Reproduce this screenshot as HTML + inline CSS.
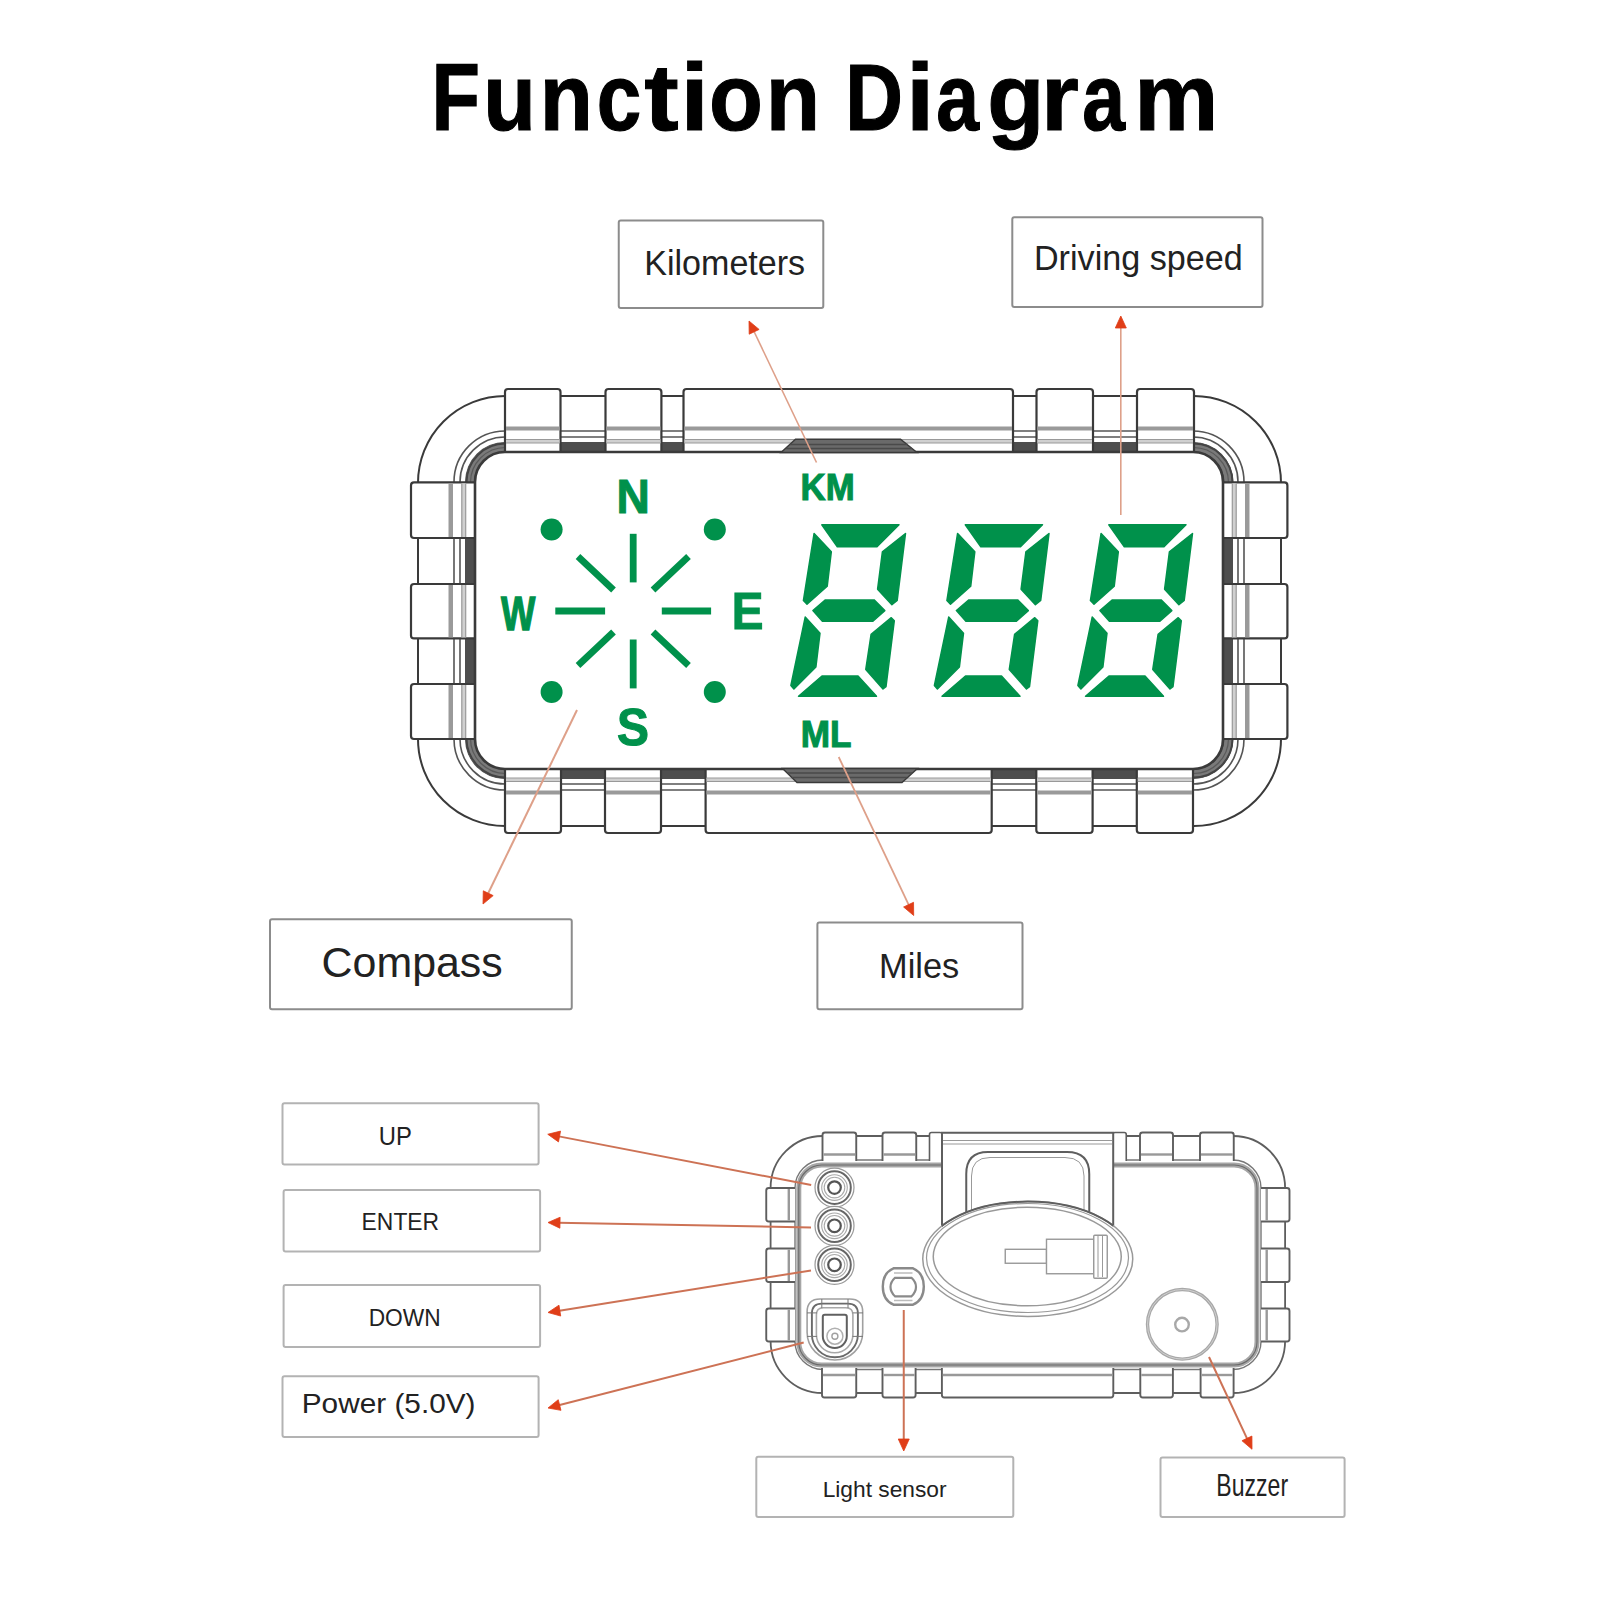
<!DOCTYPE html>
<html><head><meta charset="utf-8"><style>
html,body{margin:0;padding:0;background:#fff;}
body{width:1600px;height:1600px;overflow:hidden;}
svg{display:block;}
</style></head><body>
<svg width="1600" height="1600" viewBox="0 0 1600 1600">
<rect x="0" y="0" width="1600" height="1600" fill="#fff"/>
<text transform="translate(431.44,130.1) scale(0.8417,1)" font-family="Liberation Sans" font-size="94.26" font-weight="bold" fill="#000" stroke="#000" stroke-width="1.188088111475034" style="font-kerning:none">F</text>
<text transform="translate(483.16,130.1) scale(0.9139,1)" font-family="Liberation Sans" font-size="94.26" font-weight="bold" fill="#000" stroke="#000" stroke-width="1.09421319675711" style="font-kerning:none">u</text>
<text transform="translate(539.77,130.1) scale(0.9227,1)" font-family="Liberation Sans" font-size="94.26" font-weight="bold" fill="#000" stroke="#000" stroke-width="1.0837921186927573" style="font-kerning:none">n</text>
<text transform="translate(596.78,130.1) scale(0.8482,1)" font-family="Liberation Sans" font-size="94.26" font-weight="bold" fill="#000" stroke="#000" stroke-width="1.1789621662936067" style="font-kerning:none">c</text>
<text transform="translate(644.23,130.1) scale(1.1001,1)" font-family="Liberation Sans" font-size="94.26" font-weight="bold" fill="#000" stroke="#000" stroke-width="0.9090046132008516" style="font-kerning:none">t</text>
<text transform="translate(680.38,130.1) scale(1.0825,1)" font-family="Liberation Sans" font-size="94.26" font-weight="bold" fill="#000" stroke="#000" stroke-width="0.9237985399979721" style="font-kerning:none">i</text>
<text transform="translate(709.05,130.1) scale(0.9360,1)" font-family="Liberation Sans" font-size="94.26" font-weight="bold" fill="#000" stroke="#000" stroke-width="1.068380321036498" style="font-kerning:none">o</text>
<text transform="translate(765.63,130.1) scale(0.9447,1)" font-family="Liberation Sans" font-size="94.26" font-weight="bold" fill="#000" stroke="#000" stroke-width="1.0585876508161816" style="font-kerning:none">n</text>
<text transform="translate(845.16,130.1) scale(0.8476,1)" font-family="Liberation Sans" font-size="94.26" font-weight="bold" fill="#000" stroke="#000" stroke-width="1.179756956011645" style="font-kerning:none">D</text>
<text transform="translate(905.88,130.1) scale(1.0825,1)" font-family="Liberation Sans" font-size="94.26" font-weight="bold" fill="#000" stroke="#000" stroke-width="0.9237985399979721" style="font-kerning:none">i</text>
<text transform="translate(936.25,130.1) scale(0.8158,1)" font-family="Liberation Sans" font-size="94.26" font-weight="bold" fill="#000" stroke="#000" stroke-width="1.2258512350914847" style="font-kerning:none">a</text>
<text transform="translate(987.17,130.1) scale(0.9914,1)" font-family="Liberation Sans" font-size="94.26" font-weight="bold" fill="#000" stroke="#000" stroke-width="1.0086450326925689" style="font-kerning:none">g</text>
<text transform="translate(1041.08,130.1) scale(1.0330,1)" font-family="Liberation Sans" font-size="94.26" font-weight="bold" fill="#000" stroke="#000" stroke-width="0.9680707357463921" style="font-kerning:none">r</text>
<text transform="translate(1082.25,130.1) scale(0.8158,1)" font-family="Liberation Sans" font-size="94.26" font-weight="bold" fill="#000" stroke="#000" stroke-width="1.2258512350914847" style="font-kerning:none">a</text>
<text transform="translate(1134.27,130.1) scale(1.0034,1)" font-family="Liberation Sans" font-size="94.26" font-weight="bold" fill="#000" stroke="#000" stroke-width="0.9965810070183739" style="font-kerning:none">m</text>
<rect x="618.75" y="220.6" width="204.54999999999995" height="87.4" rx="2" ry="2" fill="none" stroke="#8c8c8c" stroke-width="2" />
<text transform="translate(644.20,275.0) scale(0.9772,1)" font-family="Liberation Sans" font-size="34.88" font-weight="normal" fill="#222"  style="font-kerning:none">Kilometers</text>
<rect x="1012.3" y="217.2" width="250.20000000000005" height="89.90000000000003" rx="2" ry="2" fill="none" stroke="#8c8c8c" stroke-width="2" />
<text transform="translate(1033.95,270.0) scale(0.9751,1)" font-family="Liberation Sans" font-size="35.03" font-weight="normal" fill="#222"  style="font-kerning:none">Driving speed</text>
<rect x="270" y="919.25" width="301.75" height="90.0" rx="2" ry="2" fill="none" stroke="#8c8c8c" stroke-width="2" />
<text transform="translate(321.57,977.0) scale(1.0179,1)" font-family="Liberation Sans" font-size="42.15" font-weight="normal" fill="#222"  style="font-kerning:none">Compass</text>
<rect x="817.4" y="922.6" width="205.10000000000002" height="86.60000000000002" rx="2" ry="2" fill="none" stroke="#8c8c8c" stroke-width="2" />
<text transform="translate(879.08,978.0) scale(1.0057,1)" font-family="Liberation Sans" font-size="34.16" font-weight="normal" fill="#222"  style="font-kerning:none">Miles</text>
<rect x="282.5" y="1103.2" width="256.1" height="61.200000000000045" rx="2" ry="2" fill="none" stroke="#b3b3b3" stroke-width="2" />
<text transform="translate(378.86,1144.5) scale(0.9313,1)" font-family="Liberation Sans" font-size="25.58" font-weight="normal" fill="#222"  style="font-kerning:none">UP</text>
<rect x="283.6" y="1189.9" width="256.5" height="61.5" rx="2" ry="2" fill="none" stroke="#b3b3b3" stroke-width="2" />
<text transform="translate(361.62,1230.0) scale(0.9776,1)" font-family="Liberation Sans" font-size="23.40" font-weight="normal" fill="#222"  style="font-kerning:none">ENTER</text>
<rect x="283.6" y="1285.1" width="256.5" height="61.90000000000009" rx="2" ry="2" fill="none" stroke="#b3b3b3" stroke-width="2" />
<text transform="translate(368.63,1325.8) scale(0.9721,1)" font-family="Liberation Sans" font-size="23.40" font-weight="normal" fill="#222"  style="font-kerning:none">DOWN</text>
<rect x="282.5" y="1376.2" width="256.1" height="60.799999999999955" rx="2" ry="2" fill="none" stroke="#b3b3b3" stroke-width="2" />
<text transform="translate(301.76,1413.0) scale(1.0899,1)" font-family="Liberation Sans" font-size="27.33" font-weight="normal" fill="#222"  style="font-kerning:none">Power (5.0V)</text>
<rect x="756.3" y="1456.8" width="257.0" height="60.100000000000136" rx="2" ry="2" fill="none" stroke="#b3b3b3" stroke-width="2" />
<text transform="translate(822.63,1496.7) scale(0.9907,1)" font-family="Liberation Sans" font-size="22.97" font-weight="normal" fill="#222"  style="font-kerning:none">Light sensor</text>
<rect x="1160.5" y="1457.6" width="184.0999999999999" height="59.30000000000018" rx="2" ry="2" fill="none" stroke="#b3b3b3" stroke-width="2" />
<text transform="translate(1216.31,1496.2) scale(0.7414,1)" font-family="Liberation Sans" font-size="31.11" font-weight="normal" fill="#222"  style="font-kerning:none">Buzzer</text>
<rect x="418" y="396" width="863" height="430" rx="87" ry="87" fill="#fff" stroke="#3a3a3a" stroke-width="2" />
<rect x="454" y="431" width="790" height="359" rx="51" ry="51" fill="none" stroke="#555" stroke-width="1.6" />
<rect x="460" y="437" width="778" height="347" rx="45" ry="45" fill="none" stroke="#555" stroke-width="1.6" />
<rect x="465" y="442" width="768" height="337" rx="40" ry="40" fill="#4e4e4e" stroke="none" stroke-width="0" />
<path d="M465.50,482.50 A40,40 0 0 1 505.50,442.50 L505.50,451.50 A31,31 0 0 0 474.50,482.50 Z" fill="#7a7a7a"/>
<path d="M466.50,482.50 A39,39 0 0 1 505.50,443.50" fill="none" stroke="#444" stroke-width="2"/>
<path d="M470.50,482.50 A35,35 0 0 1 505.50,447.50" fill="none" stroke="#5a5a5a" stroke-width="1.2"/>
<path d="M1193.50,442.50 A40,40 0 0 1 1233.50,482.50 L1224.50,482.50 A31,31 0 0 0 1193.50,451.50 Z" fill="#7a7a7a"/>
<path d="M1193.50,443.50 A39,39 0 0 1 1232.50,482.50" fill="none" stroke="#444" stroke-width="2"/>
<path d="M1193.50,447.50 A35,35 0 0 1 1228.50,482.50" fill="none" stroke="#5a5a5a" stroke-width="1.2"/>
<path d="M1233.50,738.50 A40,40 0 0 1 1193.50,778.50 L1193.50,769.50 A31,31 0 0 0 1224.50,738.50 Z" fill="#7a7a7a"/>
<path d="M1232.50,738.50 A39,39 0 0 1 1193.50,777.50" fill="none" stroke="#444" stroke-width="2"/>
<path d="M1228.50,738.50 A35,35 0 0 1 1193.50,773.50" fill="none" stroke="#5a5a5a" stroke-width="1.2"/>
<path d="M505.50,778.50 A40,40 0 0 1 465.50,738.50 L474.50,738.50 A31,31 0 0 0 505.50,769.50 Z" fill="#7a7a7a"/>
<path d="M505.50,777.50 A39,39 0 0 1 466.50,738.50" fill="none" stroke="#444" stroke-width="2"/>
<path d="M505.50,773.50 A35,35 0 0 1 470.50,738.50" fill="none" stroke="#5a5a5a" stroke-width="1.2"/>
<rect x="505" y="389" width="55.5" height="69" rx="3" ry="3" fill="#fff" stroke="#3a3a3a" stroke-width="2.2" />
<line x1="506" y1="428.5" x2="559.5" y2="428.5" stroke="#9a9a9a" stroke-width="4" />
<rect x="506" y="439.5" width="53.5" height="3.5" fill="#d0d0d0"/>
<line x1="506" y1="439.5" x2="559.5" y2="439.5" stroke="#999" stroke-width="1.2" />
<line x1="506" y1="443" x2="559.5" y2="443" stroke="#999" stroke-width="1.2" />
<rect x="605.5" y="389" width="55.89999999999998" height="69" rx="3" ry="3" fill="#fff" stroke="#3a3a3a" stroke-width="2.2" />
<line x1="606.5" y1="428.5" x2="660.4" y2="428.5" stroke="#9a9a9a" stroke-width="4" />
<rect x="606.5" y="439.5" width="53.89999999999998" height="3.5" fill="#d0d0d0"/>
<line x1="606.5" y1="439.5" x2="660.4" y2="439.5" stroke="#999" stroke-width="1.2" />
<line x1="606.5" y1="443" x2="660.4" y2="443" stroke="#999" stroke-width="1.2" />
<rect x="683.5" y="389" width="329.5" height="69" rx="3" ry="3" fill="#fff" stroke="#3a3a3a" stroke-width="2.2" />
<line x1="684.5" y1="428.5" x2="1012" y2="428.5" stroke="#9a9a9a" stroke-width="4" />
<rect x="684.5" y="439.5" width="327.5" height="3.5" fill="#d0d0d0"/>
<line x1="684.5" y1="439.5" x2="1012" y2="439.5" stroke="#999" stroke-width="1.2" />
<line x1="684.5" y1="443" x2="1012" y2="443" stroke="#999" stroke-width="1.2" />
<rect x="1036.5" y="389" width="56.5" height="69" rx="3" ry="3" fill="#fff" stroke="#3a3a3a" stroke-width="2.2" />
<line x1="1037.5" y1="428.5" x2="1092" y2="428.5" stroke="#9a9a9a" stroke-width="4" />
<rect x="1037.5" y="439.5" width="54.5" height="3.5" fill="#d0d0d0"/>
<line x1="1037.5" y1="439.5" x2="1092" y2="439.5" stroke="#999" stroke-width="1.2" />
<line x1="1037.5" y1="443" x2="1092" y2="443" stroke="#999" stroke-width="1.2" />
<rect x="1137" y="389" width="57" height="69" rx="3" ry="3" fill="#fff" stroke="#3a3a3a" stroke-width="2.2" />
<line x1="1138" y1="428.5" x2="1193" y2="428.5" stroke="#9a9a9a" stroke-width="4" />
<rect x="1138" y="439.5" width="55" height="3.5" fill="#d0d0d0"/>
<line x1="1138" y1="439.5" x2="1193" y2="439.5" stroke="#999" stroke-width="1.2" />
<line x1="1138" y1="443" x2="1193" y2="443" stroke="#999" stroke-width="1.2" />
<rect x="505" y="763" width="56" height="70" rx="3" ry="3" fill="#fff" stroke="#3a3a3a" stroke-width="2.2" />
<line x1="506" y1="792.5" x2="560" y2="792.5" stroke="#9a9a9a" stroke-width="4" />
<rect x="506" y="778" width="54" height="3.5" fill="#d0d0d0"/>
<line x1="506" y1="781.5" x2="560" y2="781.5" stroke="#999" stroke-width="1.2" />
<line x1="506" y1="778" x2="560" y2="778" stroke="#999" stroke-width="1.2" />
<rect x="605" y="763" width="56" height="70" rx="3" ry="3" fill="#fff" stroke="#3a3a3a" stroke-width="2.2" />
<line x1="606" y1="792.5" x2="660" y2="792.5" stroke="#9a9a9a" stroke-width="4" />
<rect x="606" y="778" width="54" height="3.5" fill="#d0d0d0"/>
<line x1="606" y1="781.5" x2="660" y2="781.5" stroke="#999" stroke-width="1.2" />
<line x1="606" y1="778" x2="660" y2="778" stroke="#999" stroke-width="1.2" />
<rect x="705.6" y="763" width="286.1" height="70" rx="3" ry="3" fill="#fff" stroke="#3a3a3a" stroke-width="2.2" />
<line x1="706.6" y1="792.5" x2="990.7" y2="792.5" stroke="#9a9a9a" stroke-width="4" />
<rect x="706.6" y="778" width="284.1" height="3.5" fill="#d0d0d0"/>
<line x1="706.6" y1="781.5" x2="990.7" y2="781.5" stroke="#999" stroke-width="1.2" />
<line x1="706.6" y1="778" x2="990.7" y2="778" stroke="#999" stroke-width="1.2" />
<rect x="1036.3" y="763" width="56.299999999999955" height="70" rx="3" ry="3" fill="#fff" stroke="#3a3a3a" stroke-width="2.2" />
<line x1="1037.3" y1="792.5" x2="1091.6" y2="792.5" stroke="#9a9a9a" stroke-width="4" />
<rect x="1037.3" y="778" width="54.299999999999955" height="3.5" fill="#d0d0d0"/>
<line x1="1037.3" y1="781.5" x2="1091.6" y2="781.5" stroke="#999" stroke-width="1.2" />
<line x1="1037.3" y1="778" x2="1091.6" y2="778" stroke="#999" stroke-width="1.2" />
<rect x="1136.8" y="763" width="56.200000000000045" height="70" rx="3" ry="3" fill="#fff" stroke="#3a3a3a" stroke-width="2.2" />
<line x1="1137.8" y1="792.5" x2="1192" y2="792.5" stroke="#9a9a9a" stroke-width="4" />
<rect x="1137.8" y="778" width="54.200000000000045" height="3.5" fill="#d0d0d0"/>
<line x1="1137.8" y1="781.5" x2="1192" y2="781.5" stroke="#999" stroke-width="1.2" />
<line x1="1137.8" y1="778" x2="1192" y2="778" stroke="#999" stroke-width="1.2" />
<rect x="411" y="482.4" width="70" height="55.60000000000002" rx="3" ry="3" fill="#fff" stroke="#3a3a3a" stroke-width="2.2" />
<line x1="450.75" y1="483.4" x2="450.75" y2="537" stroke="#9a9a9a" stroke-width="4.5" />
<rect x="461.8" y="483.4" width="3.9" height="53.60000000000002" fill="#d0d0d0"/>
<line x1="461.8" y1="483.4" x2="461.8" y2="537" stroke="#999" stroke-width="1.2" />
<line x1="465.7" y1="483.4" x2="465.7" y2="537" stroke="#999" stroke-width="1.2" />
<rect x="1217" y="482.4" width="70.40000000000009" height="55.60000000000002" rx="3" ry="3" fill="#fff" stroke="#3a3a3a" stroke-width="2.2" />
<line x1="1247.25" y1="483.4" x2="1247.25" y2="537" stroke="#9a9a9a" stroke-width="4.5" />
<rect x="1232.3" y="483.4" width="3.9" height="53.60000000000002" fill="#d0d0d0"/>
<line x1="1236.2" y1="483.4" x2="1236.2" y2="537" stroke="#999" stroke-width="1.2" />
<line x1="1232.3" y1="483.4" x2="1232.3" y2="537" stroke="#999" stroke-width="1.2" />
<rect x="411" y="584" width="70" height="54.39999999999998" rx="3" ry="3" fill="#fff" stroke="#3a3a3a" stroke-width="2.2" />
<line x1="450.75" y1="585" x2="450.75" y2="637.4" stroke="#9a9a9a" stroke-width="4.5" />
<rect x="461.8" y="585" width="3.9" height="52.39999999999998" fill="#d0d0d0"/>
<line x1="461.8" y1="585" x2="461.8" y2="637.4" stroke="#999" stroke-width="1.2" />
<line x1="465.7" y1="585" x2="465.7" y2="637.4" stroke="#999" stroke-width="1.2" />
<rect x="1217" y="584" width="70.40000000000009" height="54.39999999999998" rx="3" ry="3" fill="#fff" stroke="#3a3a3a" stroke-width="2.2" />
<line x1="1247.25" y1="585" x2="1247.25" y2="637.4" stroke="#9a9a9a" stroke-width="4.5" />
<rect x="1232.3" y="585" width="3.9" height="52.39999999999998" fill="#d0d0d0"/>
<line x1="1236.2" y1="585" x2="1236.2" y2="637.4" stroke="#999" stroke-width="1.2" />
<line x1="1232.3" y1="585" x2="1232.3" y2="637.4" stroke="#999" stroke-width="1.2" />
<rect x="411" y="684" width="70" height="55" rx="3" ry="3" fill="#fff" stroke="#3a3a3a" stroke-width="2.2" />
<line x1="450.75" y1="685" x2="450.75" y2="738" stroke="#9a9a9a" stroke-width="4.5" />
<rect x="461.8" y="685" width="3.9" height="53" fill="#d0d0d0"/>
<line x1="461.8" y1="685" x2="461.8" y2="738" stroke="#999" stroke-width="1.2" />
<line x1="465.7" y1="685" x2="465.7" y2="738" stroke="#999" stroke-width="1.2" />
<rect x="1217" y="684" width="70.40000000000009" height="55" rx="3" ry="3" fill="#fff" stroke="#3a3a3a" stroke-width="2.2" />
<line x1="1247.25" y1="685" x2="1247.25" y2="738" stroke="#9a9a9a" stroke-width="4.5" />
<rect x="1232.3" y="685" width="3.9" height="53" fill="#d0d0d0"/>
<line x1="1236.2" y1="685" x2="1236.2" y2="738" stroke="#999" stroke-width="1.2" />
<line x1="1232.3" y1="685" x2="1232.3" y2="738" stroke="#999" stroke-width="1.2" />
<rect x="475" y="452" width="748" height="317" rx="30" ry="30" fill="#fff" stroke="#3a3a3a" stroke-width="2.6" />
<polygon points="781,452.5 795.5,439.3 900.5,439.3 917,452.5" fill="#6a6a6a" stroke="#3a3a3a" stroke-width="1.4"/>
<line x1="790" y1="444.5" x2="908" y2="444.5" stroke="#4a4a4a" stroke-width="1.3" />
<line x1="786" y1="448.5" x2="912" y2="448.5" stroke="#4a4a4a" stroke-width="1.3" />
<polygon points="782.5,768.5 917.5,768.5 902,782.5 797,782.5" fill="#6a6a6a" stroke="#3a3a3a" stroke-width="1.4"/>
<line x1="788" y1="773" x2="912" y2="773" stroke="#4a4a4a" stroke-width="1.3" />
<line x1="792" y1="777.5" x2="907" y2="777.5" stroke="#4a4a4a" stroke-width="1.3" />
<line x1="633.2" y1="533.8" x2="633.2" y2="582.4" stroke="#00914b" stroke-width="6.8" />
<line x1="633.2" y1="639.5" x2="633.2" y2="688.4" stroke="#00914b" stroke-width="6.8" />
<line x1="555.3" y1="611" x2="605.1" y2="611" stroke="#00914b" stroke-width="6.8" />
<line x1="661.8" y1="611" x2="711.1" y2="611" stroke="#00914b" stroke-width="6.8" />
<line x1="578" y1="556.5" x2="613.5" y2="590" stroke="#00914b" stroke-width="6.8" />
<line x1="688.5" y1="556.5" x2="653" y2="590" stroke="#00914b" stroke-width="6.8" />
<line x1="578" y1="665.5" x2="613.5" y2="632" stroke="#00914b" stroke-width="6.8" />
<line x1="688.5" y1="665.5" x2="653" y2="632" stroke="#00914b" stroke-width="6.8" />
<circle cx="551.6" cy="529.5" r="11" fill="#00914b"/>
<circle cx="714.8" cy="529.5" r="11" fill="#00914b"/>
<circle cx="551.6" cy="692" r="11" fill="#00914b"/>
<circle cx="714.8" cy="692" r="11" fill="#00914b"/>
<text transform="translate(616.62,512.7) scale(0.9610,1)" font-family="Liberation Sans" font-size="47.97" font-weight="bold" fill="#00914b" stroke="#00914b" stroke-width="1.0405432656171876" style="font-kerning:none">N</text>
<text transform="translate(617.12,744.5) scale(0.9155,1)" font-family="Liberation Sans" font-size="52.33" font-weight="bold" fill="#00914b" stroke="#00914b" stroke-width="1.092330785418772" style="font-kerning:none">S</text>
<text transform="translate(500.96,629.5) scale(0.7456,1)" font-family="Liberation Sans" font-size="48.84" font-weight="bold" fill="#00914b" stroke="#00914b" stroke-width="1.3411161483756049" style="font-kerning:none">W</text>
<text transform="translate(731.82,628.6) scale(0.9197,1)" font-family="Liberation Sans" font-size="51.75" font-weight="bold" fill="#00914b" stroke="#00914b" stroke-width="1.087295954577713" style="font-kerning:none">E</text>
<text transform="translate(800.58,499.7) scale(0.9564,1)" font-family="Liberation Sans" font-size="36.34" font-weight="bold" fill="#00914b" stroke="#00914b" stroke-width="1.0455487137344375" style="font-kerning:none">KM</text>
<text transform="translate(800.85,747.1) scale(0.9747,1)" font-family="Liberation Sans" font-size="36.05" font-weight="bold" fill="#00914b" stroke="#00914b" stroke-width="1.025926653932663" style="font-kerning:none">ML</text>
<polygon points="821.8,524.8 899.0,524.8 877.0,546.7 837.3,546.7" fill="#00914b" stroke="#00914b" stroke-width="1.5" stroke-linejoin="round"/>
<polygon points="905.5,533.5 897.2,600.5 891.9,604.7 877.6,589.2 882.4,551.8" fill="#00914b" stroke="#00914b" stroke-width="1.5" stroke-linejoin="round"/>
<polygon points="814.1,533.4 831.3,551.8 827.2,586.3 807.0,604.1 803.4,600.5" fill="#00914b" stroke="#00914b" stroke-width="1.5" stroke-linejoin="round"/>
<polygon points="812.9,610.6 825.4,599.9 874.1,599.9 884.8,610.6 872.9,621.3 822.4,621.3" fill="#00914b" stroke="#00914b" stroke-width="1.5" stroke-linejoin="round"/>
<polygon points="805.2,617.1 820.0,633.2 815.9,667.0 793.9,689.0 790.9,685.4" fill="#00914b" stroke="#00914b" stroke-width="1.5" stroke-linejoin="round"/>
<polygon points="891.3,617.7 894.3,620.7 886.0,686.6 883.0,689.0 865.8,669.4 871.1,634.4" fill="#00914b" stroke="#00914b" stroke-width="1.5" stroke-linejoin="round"/>
<polygon points="822.0,676.0 858.0,676.0 876.5,696.3 798.5,696.3" fill="#00914b" stroke="#00914b" stroke-width="1.5" stroke-linejoin="round"/>
<polygon points="965.3,524.8 1042.5,524.8 1020.5,546.7 980.8,546.7" fill="#00914b" stroke="#00914b" stroke-width="1.5" stroke-linejoin="round"/>
<polygon points="1049.0,533.5 1040.7,600.5 1035.4,604.7 1021.1,589.2 1025.9,551.8" fill="#00914b" stroke="#00914b" stroke-width="1.5" stroke-linejoin="round"/>
<polygon points="957.6,533.4 974.8,551.8 970.7,586.3 950.5,604.1 946.9,600.5" fill="#00914b" stroke="#00914b" stroke-width="1.5" stroke-linejoin="round"/>
<polygon points="956.4,610.6 968.9,599.9 1017.6,599.9 1028.3,610.6 1016.4,621.3 965.9,621.3" fill="#00914b" stroke="#00914b" stroke-width="1.5" stroke-linejoin="round"/>
<polygon points="948.7,617.1 963.5,633.2 959.4,667.0 937.4,689.0 934.4,685.4" fill="#00914b" stroke="#00914b" stroke-width="1.5" stroke-linejoin="round"/>
<polygon points="1034.8,617.7 1037.8,620.7 1029.5,686.6 1026.5,689.0 1009.3,669.4 1014.6,634.4" fill="#00914b" stroke="#00914b" stroke-width="1.5" stroke-linejoin="round"/>
<polygon points="965.5,676.0 1001.5,676.0 1020.0,696.3 942.0,696.3" fill="#00914b" stroke="#00914b" stroke-width="1.5" stroke-linejoin="round"/>
<polygon points="1108.8,524.8 1186.0,524.8 1164.0,546.7 1124.3,546.7" fill="#00914b" stroke="#00914b" stroke-width="1.5" stroke-linejoin="round"/>
<polygon points="1192.5,533.5 1184.2,600.5 1178.9,604.7 1164.6,589.2 1169.4,551.8" fill="#00914b" stroke="#00914b" stroke-width="1.5" stroke-linejoin="round"/>
<polygon points="1101.1,533.4 1118.3,551.8 1114.2,586.3 1094.0,604.1 1090.4,600.5" fill="#00914b" stroke="#00914b" stroke-width="1.5" stroke-linejoin="round"/>
<polygon points="1099.9,610.6 1112.4,599.9 1161.1,599.9 1171.8,610.6 1159.9,621.3 1109.4,621.3" fill="#00914b" stroke="#00914b" stroke-width="1.5" stroke-linejoin="round"/>
<polygon points="1092.2,617.1 1107.0,633.2 1102.9,667.0 1080.9,689.0 1077.9,685.4" fill="#00914b" stroke="#00914b" stroke-width="1.5" stroke-linejoin="round"/>
<polygon points="1178.3,617.7 1181.3,620.7 1173.0,686.6 1170.0,689.0 1152.8,669.4 1158.1,634.4" fill="#00914b" stroke="#00914b" stroke-width="1.5" stroke-linejoin="round"/>
<polygon points="1109.0,676.0 1145.0,676.0 1163.5,696.3 1085.5,696.3" fill="#00914b" stroke="#00914b" stroke-width="1.5" stroke-linejoin="round"/>
<rect x="770.6" y="1136" width="514.4999999999999" height="257" rx="52" ry="52" fill="#fff" stroke="#5e5e5e" stroke-width="1.8" />
<rect x="795" y="1160" width="466" height="209.5" rx="28" ry="28" fill="none" stroke="#777" stroke-width="1.4" />
<rect x="822.5" y="1132.5" width="33.75" height="28.5" fill="#fff"/>
<path d="M822.5,1161 L822.5,1135.0 Q822.5,1132.5 825.0,1132.5 L853.75,1132.5 Q856.25,1132.5 856.25,1135.0 L856.25,1161" fill="none" stroke="#5e5e5e" stroke-width="1.9"/>
<line x1="823.5" y1="1154.5" x2="855.25" y2="1154.5" stroke="#999" stroke-width="2.4" />
<rect x="882.5" y="1132.5" width="33.75" height="28.5" fill="#fff"/>
<path d="M882.5,1161 L882.5,1135.0 Q882.5,1132.5 885.0,1132.5 L913.75,1132.5 Q916.25,1132.5 916.25,1135.0 L916.25,1161" fill="none" stroke="#5e5e5e" stroke-width="1.9"/>
<line x1="883.5" y1="1154.5" x2="915.25" y2="1154.5" stroke="#999" stroke-width="2.4" />
<rect x="1140" y="1132.5" width="33" height="28.5" fill="#fff"/>
<path d="M1140,1161 L1140,1135.0 Q1140,1132.5 1142.5,1132.5 L1170.5,1132.5 Q1173,1132.5 1173,1135.0 L1173,1161" fill="none" stroke="#5e5e5e" stroke-width="1.9"/>
<line x1="1141" y1="1154.5" x2="1172" y2="1154.5" stroke="#999" stroke-width="2.4" />
<rect x="1200" y="1132.5" width="33.75" height="28.5" fill="#fff"/>
<path d="M1200,1161 L1200,1135.0 Q1200,1132.5 1202.5,1132.5 L1231.25,1132.5 Q1233.75,1132.5 1233.75,1135.0 L1233.75,1161" fill="none" stroke="#5e5e5e" stroke-width="1.9"/>
<line x1="1201" y1="1154.5" x2="1232.75" y2="1154.5" stroke="#999" stroke-width="2.4" />
<rect x="929.5" y="1132.5" width="12.5" height="28.5" fill="#fff"/>
<path d="M929.5,1161 L929.5,1134.5 Q929.5,1132.5 931.5,1132.5 L940,1132.5 Q942,1132.5 942,1134.5 L942,1161" fill="none" stroke="#5e5e5e" stroke-width="1.6"/>
<rect x="1113" y="1132.5" width="13.25" height="28.5" fill="#fff"/>
<path d="M1113,1161 L1113,1134.5 Q1113,1132.5 1115,1132.5 L1124.25,1132.5 Q1126.25,1132.5 1126.25,1134.5 L1126.25,1161" fill="none" stroke="#5e5e5e" stroke-width="1.6"/>
<rect x="822" y="1368" width="34.25" height="29.5" fill="#fff"/>
<path d="M822,1368 L822,1395.0 Q822,1397.5 824.5,1397.5 L853.75,1397.5 Q856.25,1397.5 856.25,1395.0 L856.25,1368" fill="none" stroke="#5e5e5e" stroke-width="1.9"/>
<line x1="823" y1="1375" x2="855.25" y2="1375" stroke="#999" stroke-width="2.4" />
<rect x="882.5" y="1368" width="33.10000000000002" height="29.5" fill="#fff"/>
<path d="M882.5,1368 L882.5,1395.0 Q882.5,1397.5 885.0,1397.5 L913.1,1397.5 Q915.6,1397.5 915.6,1395.0 L915.6,1368" fill="none" stroke="#5e5e5e" stroke-width="1.9"/>
<line x1="883.5" y1="1375" x2="914.6" y2="1375" stroke="#999" stroke-width="2.4" />
<rect x="941.9" y="1368" width="171.39999999999998" height="29.5" fill="#fff"/>
<path d="M941.9,1368 L941.9,1395.0 Q941.9,1397.5 944.4,1397.5 L1110.8,1397.5 Q1113.3,1397.5 1113.3,1395.0 L1113.3,1368" fill="none" stroke="#5e5e5e" stroke-width="1.9"/>
<line x1="942.9" y1="1375" x2="1112.3" y2="1375" stroke="#999" stroke-width="2.4" />
<rect x="1140.3" y="1368" width="32.600000000000136" height="29.5" fill="#fff"/>
<path d="M1140.3,1368 L1140.3,1395.0 Q1140.3,1397.5 1142.8,1397.5 L1170.4,1397.5 Q1172.9,1397.5 1172.9,1395.0 L1172.9,1368" fill="none" stroke="#5e5e5e" stroke-width="1.9"/>
<line x1="1141.3" y1="1375" x2="1171.9" y2="1375" stroke="#999" stroke-width="2.4" />
<rect x="1200.6" y="1368" width="33.0" height="29.5" fill="#fff"/>
<path d="M1200.6,1368 L1200.6,1395.0 Q1200.6,1397.5 1203.1,1397.5 L1231.1,1397.5 Q1233.6,1397.5 1233.6,1395.0 L1233.6,1368" fill="none" stroke="#5e5e5e" stroke-width="1.9"/>
<line x1="1201.6" y1="1375" x2="1232.6" y2="1375" stroke="#999" stroke-width="2.4" />
<rect x="766.25" y="1188" width="28.75" height="33.5" fill="#fff"/>
<path d="M795,1188 L768.75,1188 Q766.25,1188 766.25,1190.5 L766.25,1219.0 Q766.25,1221.5 768.75,1221.5 L795,1221.5" fill="none" stroke="#5e5e5e" stroke-width="1.9"/>
<line x1="788.8" y1="1189" x2="788.8" y2="1220.5" stroke="#999" stroke-width="2.4" />
<rect x="1261" y="1188" width="28.5" height="33.5" fill="#fff"/>
<path d="M1261,1188 L1287.0,1188 Q1289.5,1188 1289.5,1190.5 L1289.5,1219.0 Q1289.5,1221.5 1287.0,1221.5 L1261,1221.5" fill="none" stroke="#5e5e5e" stroke-width="1.9"/>
<line x1="1266.7" y1="1189" x2="1266.7" y2="1220.5" stroke="#999" stroke-width="2.4" />
<rect x="766.25" y="1248.5" width="28.75" height="33.5" fill="#fff"/>
<path d="M795,1248.5 L768.75,1248.5 Q766.25,1248.5 766.25,1251.0 L766.25,1279.5 Q766.25,1282 768.75,1282 L795,1282" fill="none" stroke="#5e5e5e" stroke-width="1.9"/>
<line x1="788.8" y1="1249.5" x2="788.8" y2="1281" stroke="#999" stroke-width="2.4" />
<rect x="1261" y="1248.5" width="28.5" height="33.5" fill="#fff"/>
<path d="M1261,1248.5 L1287.0,1248.5 Q1289.5,1248.5 1289.5,1251.0 L1289.5,1279.5 Q1289.5,1282 1287.0,1282 L1261,1282" fill="none" stroke="#5e5e5e" stroke-width="1.9"/>
<line x1="1266.7" y1="1249.5" x2="1266.7" y2="1281" stroke="#999" stroke-width="2.4" />
<rect x="766.25" y="1308.5" width="28.75" height="33.0" fill="#fff"/>
<path d="M795,1308.5 L768.75,1308.5 Q766.25,1308.5 766.25,1311.0 L766.25,1339.0 Q766.25,1341.5 768.75,1341.5 L795,1341.5" fill="none" stroke="#5e5e5e" stroke-width="1.9"/>
<line x1="788.8" y1="1309.5" x2="788.8" y2="1340.5" stroke="#999" stroke-width="2.4" />
<rect x="1261" y="1308.5" width="28.5" height="33.0" fill="#fff"/>
<path d="M1261,1308.5 L1287.0,1308.5 Q1289.5,1308.5 1289.5,1311.0 L1289.5,1339.0 Q1289.5,1341.5 1287.0,1341.5 L1261,1341.5" fill="none" stroke="#5e5e5e" stroke-width="1.9"/>
<line x1="1266.7" y1="1309.5" x2="1266.7" y2="1340.5" stroke="#999" stroke-width="2.4" />
<rect x="798.8" y="1165" width="458.20000000000005" height="200" rx="23" ry="23" fill="#fff" stroke="#a6a6a6" stroke-width="5" />
<rect x="798.8" y="1165" width="458.20000000000005" height="200" rx="23" ry="23" fill="none" stroke="#6a6a6a" stroke-width="1.1" />
<path d="M942,1226.5 L942,1132.75 L1113.2,1132.75 L1113.2,1226.5" fill="#fff" stroke="#5e5e5e" stroke-width="2"/>
<line x1="943" y1="1140.5" x2="1112" y2="1140.5" stroke="#999" stroke-width="1" />
<line x1="943" y1="1144" x2="1112" y2="1144" stroke="#999" stroke-width="1" />
<path d="M966.25,1213 L966.25,1174 Q966.25,1152 988,1152 L1067,1152 Q1089.25,1152 1089.25,1174 L1089.25,1213" fill="none" stroke="#5e5e5e" stroke-width="2"/>
<path d="M971.5,1213 L971.5,1176 Q971.5,1157.5 990,1157.5 L1065,1157.5 Q1084,1157.5 1084,1176 L1084,1213" fill="none" stroke="#999" stroke-width="1"/>
<ellipse cx="1027.75" cy="1259" rx="105" ry="57.4" fill="#fff" stroke="#999" stroke-width="1.5"/>
<ellipse cx="1027.5" cy="1258" rx="101" ry="54.5" fill="none" stroke="#999" stroke-width="1.2"/>
<ellipse cx="1027.25" cy="1256.5" rx="94" ry="49.3" fill="none" stroke="#999" stroke-width="1.5"/>
<clipPath id="hc"><rect x="942" y="1195" width="171.2" height="35"/></clipPath>
<ellipse cx="1027.75" cy="1259" rx="105" ry="57.4" fill="none" stroke="#5e5e5e" stroke-width="2" clip-path="url(#hc)"/>
<rect x="1005.25" y="1249.3" width="41.25" height="13.950000000000045" rx="0" ry="0" fill="#fff" stroke="#999" stroke-width="1.4" />
<rect x="1046.5" y="1239.25" width="47.25" height="34.5" rx="0" ry="0" fill="#fff" stroke="#999" stroke-width="1.4" />
<rect x="1093.75" y="1235.2" width="13.5" height="43.049999999999955" rx="1" ry="1" fill="#fff" stroke="#999" stroke-width="1.4" />
<line x1="1098" y1="1236" x2="1098" y2="1277" stroke="#999" stroke-width="1" />
<line x1="1102.5" y1="1236" x2="1102.5" y2="1277" stroke="#999" stroke-width="1" />
<circle cx="834.5" cy="1187.6" r="19.5" fill="#fff" stroke="#999" stroke-width="1.2"/>
<circle cx="834.5" cy="1187.6" r="16.3" fill="none" stroke="#666" stroke-width="2"/>
<circle cx="834.5" cy="1187.6" r="12.8" fill="none" stroke="#aaa" stroke-width="1.1"/>
<circle cx="834.5" cy="1187.6" r="10.3" fill="none" stroke="#aaa" stroke-width="1.1"/>
<circle cx="834.5" cy="1187.6" r="6.3" fill="none" stroke="#555" stroke-width="2.2"/>
<circle cx="834.5" cy="1225.8" r="19.5" fill="#fff" stroke="#999" stroke-width="1.2"/>
<circle cx="834.5" cy="1225.8" r="16.3" fill="none" stroke="#666" stroke-width="2"/>
<circle cx="834.5" cy="1225.8" r="12.8" fill="none" stroke="#aaa" stroke-width="1.1"/>
<circle cx="834.5" cy="1225.8" r="10.3" fill="none" stroke="#aaa" stroke-width="1.1"/>
<circle cx="834.5" cy="1225.8" r="6.3" fill="none" stroke="#555" stroke-width="2.2"/>
<circle cx="834.5" cy="1264.8" r="19.5" fill="#fff" stroke="#999" stroke-width="1.2"/>
<circle cx="834.5" cy="1264.8" r="16.3" fill="none" stroke="#666" stroke-width="2"/>
<circle cx="834.5" cy="1264.8" r="12.8" fill="none" stroke="#aaa" stroke-width="1.1"/>
<circle cx="834.5" cy="1264.8" r="10.3" fill="none" stroke="#aaa" stroke-width="1.1"/>
<circle cx="834.5" cy="1264.8" r="6.3" fill="none" stroke="#555" stroke-width="2.2"/>
<path d="M807.1,1332.2 L807.1,1312 Q807.1,1299 820.1,1299 L849.7,1299 Q862.7,1299 862.7,1312 L862.7,1332.2 A27.80000000000001,27.80000000000001 0 0 1 807.1,1332.2 Z" fill="#fff" stroke="#a0a0a0" stroke-width="1.6"/>
<path d="M811.9,1334.3 L811.9,1313.6 Q811.9,1303.6 821.9,1303.6 L847.9,1303.6 Q857.9,1303.6 857.9,1313.6 L857.9,1334.3 A23.0,23.0 0 0 1 811.9,1334.3 Z" fill="none" stroke="#6a6a6a" stroke-width="1.9"/>
<path d="M816.4,1334.55 L816.4,1314.7 Q816.4,1307.7 823.4,1307.7 L845.9,1307.7 Q852.9,1307.7 852.9,1314.7 L852.9,1334.55 A18.25,18.25 0 0 1 816.4,1334.55 Z" fill="none" stroke="#a8a8a8" stroke-width="1.6"/>
<path d="M822.8,1336.0 L822.8,1316.8 Q822.8,1314.8 824.8,1314.8 L844.8,1314.8 Q846.8,1314.8 846.8,1316.8 L846.8,1336.0 A12.0,12.0 0 0 1 822.8,1336.0 Z" fill="none" stroke="#606060" stroke-width="2.0"/>
<circle cx="834.9" cy="1336.2" r="8" fill="none" stroke="#b0b0b0" stroke-width="1.5"/>
<circle cx="834.9" cy="1336.2" r="3" fill="none" stroke="#a0a0a0" stroke-width="1.4"/>
<line x1="807" y1="1312.9" x2="817" y2="1312.9" stroke="#777" stroke-width="1" />
<line x1="852.5" y1="1312.9" x2="863" y2="1312.9" stroke="#777" stroke-width="1" />
<line x1="807" y1="1336.4" x2="817" y2="1336.4" stroke="#777" stroke-width="1" />
<line x1="852.5" y1="1336.4" x2="863" y2="1336.4" stroke="#777" stroke-width="1" />
<line x1="821.8" y1="1299" x2="821.8" y2="1308" stroke="#777" stroke-width="1" />
<line x1="848" y1="1299" x2="848" y2="1308" stroke="#777" stroke-width="1" />
<path d="M893.5,1268.3 L913,1268.3 C920.5,1271.5 923.8,1279 923.8,1286.5 C923.8,1294 920.5,1301.5 913,1304.7 L893.5,1304.7 C886,1301.5 882.8,1294 882.8,1286.5 C882.8,1279 886,1271.5 893.5,1268.3 Z" fill="none" stroke="#8a8a8a" stroke-width="2.4"/>
<path d="M895,1277.8 L911.5,1277.8 C914.5,1280.5 916,1283.5 916,1287 C916,1290.5 914.5,1293.5 911.5,1296.3 L895,1296.3 C892,1293.5 890.5,1290.5 890.5,1287 C890.5,1283.5 892,1280.5 895,1277.8 Z" fill="none" stroke="#8a8a8a" stroke-width="2.2"/>
<path d="M894,1273 L912.5,1273" stroke="#bbb" stroke-width="1.5"/>
<path d="M894,1300.5 L912.5,1300.5" stroke="#bbb" stroke-width="1.5"/>
<circle cx="1182.3" cy="1324.3" r="34.8" fill="none" stroke="#a8a8a8" stroke-width="3.4"/>
<circle cx="1182.3" cy="1324.3" r="34.8" fill="none" stroke="#d8d8d8" stroke-width="0.8"/>
<circle cx="1182" cy="1324.6" r="6.8" fill="none" stroke="#a8a8a8" stroke-width="2.4"/>
<line x1="816.5" y1="462.5" x2="753.305524703744" y2="330.025655490071" stroke="#dea089" stroke-width="1.6" />
<polygon points="749,321 759.130740164032,329.46274800102594 749.2025191249538,334.1988251751445" fill="#e03e18" stroke="#e03e18" stroke-width="0.8" stroke-linejoin="round"/>
<line x1="1120.8" y1="515" x2="1120.8" y2="326.0" stroke="#dea089" stroke-width="1.6" />
<polygon points="1120.8,316 1126.3,328.0 1115.3,328.0" fill="#e03e18" stroke="#e03e18" stroke-width="0.8" stroke-linejoin="round"/>
<line x1="577" y1="710" x2="487.36045864409334" y2="895.0007555643181" stroke="#dea089" stroke-width="2" />
<polygon points="483,904 483.28296593328696,890.8026544229303 493.182134812537,895.5991589314331" fill="#e03e18" stroke="#e03e18" stroke-width="0.8" stroke-linejoin="round"/>
<line x1="838.7" y1="757" x2="909.4228141256033" y2="906.4608805187751" stroke="#dea089" stroke-width="1.8" />
<polygon points="913.7,915.5 903.5958612360503,907.0055088534482 913.5388926653977,902.3006043916118" fill="#e03e18" stroke="#e03e18" stroke-width="0.8" stroke-linejoin="round"/>
<line x1="811.2" y1="1185" x2="557.5694658078276" y2="1136.1415843224415" stroke="#cd7255" stroke-width="2" />
<polygon points="547.75,1134.25 560.5737303467359,1131.119194992625 558.4929875920501,1141.920607381235" fill="#e03e18" stroke="#e03e18" stroke-width="0.8" stroke-linejoin="round"/>
<line x1="811" y1="1227.4" x2="557.9982648476175" y2="1222.686279459138" stroke="#cd7255" stroke-width="2" />
<polygon points="548,1222.5 560.100371519667,1217.224489684776 559.895464114615,1228.2225810171553" fill="#e03e18" stroke="#e03e18" stroke-width="0.8" stroke-linejoin="round"/>
<line x1="811" y1="1270.5" x2="557.8748744907667" y2="1310.923023845581" stroke="#cd7255" stroke-width="2" />
<polygon points="548,1312.5 558.9825125039896,1305.1764476447756 560.7171862738504,1316.0388095846188" fill="#e03e18" stroke="#e03e18" stroke-width="0.8" stroke-linejoin="round"/>
<line x1="803.7" y1="1342.5" x2="557.6872226785061" y2="1405.5185252818062" stroke="#cd7255" stroke-width="2" />
<polygon points="548,1408 558.2598561192008,1399.6942578649891 560.9894783092141,1410.3502028113458" fill="#e03e18" stroke="#e03e18" stroke-width="0.8" stroke-linejoin="round"/>
<line x1="903.75" y1="1310" x2="903.75" y2="1441.0" stroke="#cd7255" stroke-width="2" />
<polygon points="903.75,1451 898.25,1439.0 909.25,1439.0" fill="#e03e18" stroke="#e03e18" stroke-width="0.8" stroke-linejoin="round"/>
<line x1="1209" y1="1357" x2="1247.7751798199554" y2="1440.186286939323" stroke="#cd7255" stroke-width="2" />
<polygon points="1252,1449.25 1241.9451736005742,1440.6971954262121 1251.915257967319,1436.049893228163" fill="#e03e18" stroke="#e03e18" stroke-width="0.8" stroke-linejoin="round"/>
</svg>
</body></html>
